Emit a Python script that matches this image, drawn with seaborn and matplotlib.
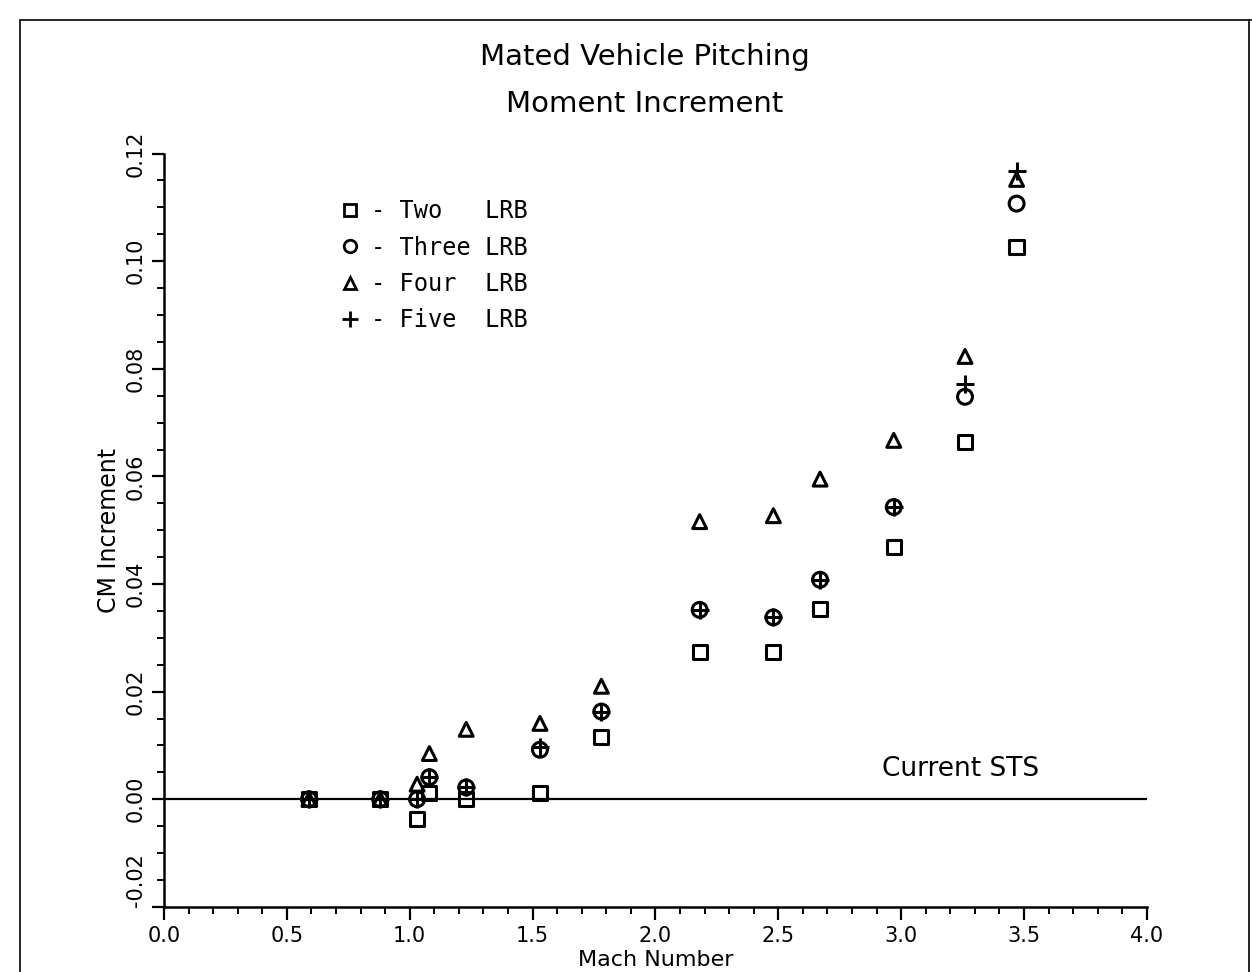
import numpy as np
import pandas as pd
import matplotlib
matplotlib.use("Agg")
import matplotlib.pyplot as plt
from matplotlib.lines import Line2D
from matplotlib.ticker import MultipleLocator, FormatStrFormatter
import seaborn as sns

# ---- data ----
mach = [0.59, 0.88, 1.03, 1.08, 1.23, 1.53, 1.78, 2.18, 2.48, 2.67, 2.97, 3.26, 3.47]
two_lrb = [0.0, 0.0, -0.0037, 0.0011, 0.0, 0.0011, 0.0115, 0.0274, 0.0274, 0.0354, 0.0469, 0.0664, 0.1026]
three_lrb = [0.0, 0.0, 0.0, 0.0041, 0.0022, 0.0092, 0.0163, 0.0352, 0.0338, 0.0408, 0.0543, 0.0748, 0.1107]
four_lrb = [0.0, 0.0, 0.0028, 0.0085, 0.0130, 0.0141, 0.0210, 0.0516, 0.0527, 0.0595, 0.0667, 0.0823, 0.1152]
five_lrb = [0.0, 0.0, 0.0, 0.0041, 0.0022, 0.0098, 0.0163, 0.0352, 0.0338, 0.0408, 0.0543, 0.0772, 0.1167]

series_names = ["Two", "Three", "Four", "Five"]
legend_labels = ["- Two   LRB", "- Three LRB", "- Four  LRB", "- Five  LRB"]
x_ticks = [0.0, 0.5, 1.0, 1.5, 2.0, 2.5, 3.0, 3.5, 4.0]
y_ticks = [-0.02, 0.00, 0.02, 0.04, 0.06, 0.08, 0.10, 0.12]

df = pd.DataFrame({
    "Mach": mach * 4,
    "CM": two_lrb + three_lrb + four_lrb + five_lrb,
    "Config": sum([[n] * len(mach) for n in series_names], []),
})

sns.set_theme(style="white")
plt.rcParams["font.family"] = ["DejaVu Sans"]
plt.rcParams["text.color"] = "black"
plt.rcParams["axes.labelcolor"] = "black"
plt.rcParams["xtick.color"] = "black"
plt.rcParams["ytick.color"] = "black"

fig = plt.figure(figsize=(12.52, 9.72), dpi=100)
ax = fig.add_axes([0.131, 0.067, 0.785, 0.775])

markers = {"Two": "s", "Three": "o", "Four": "^", "Five": "+"}
sizes = {"Two": 105, "Three": 115, "Four": 100, "Five": 170}
for name in series_names:
    sub = df[df["Config"] == name]
    if markers[name] == "+":
        sns.scatterplot(data=sub, x="Mach", y="CM", marker="+", s=sizes[name],
                        color="black", linewidth=2.2, ax=ax, zorder=3)
    else:
        sns.scatterplot(data=sub, x="Mach", y="CM", marker=markers[name], s=sizes[name],
                        facecolor="none", edgecolor="black", linewidth=2.2, ax=ax, zorder=3)

ax.axhline(0.0, color="black", lw=1.6, zorder=2)

ax.set_xlim(0.0, 4.0)
ax.set_ylim(-0.02, 0.12)
ax.set_xticks(x_ticks)
ax.set_yticks(y_ticks)
ax.xaxis.set_minor_locator(MultipleLocator(0.1))
ax.yaxis.set_minor_locator(MultipleLocator(0.005))
ax.xaxis.set_major_formatter(FormatStrFormatter("%.1f"))
ax.yaxis.set_major_formatter(FormatStrFormatter("%.2f"))

for s in ["top", "right"]:
    ax.spines[s].set_visible(False)
for s in ["left", "bottom"]:
    ax.spines[s].set_linewidth(1.8)
    ax.spines[s].set_color("black")

ax.tick_params(axis="both", which="major", direction="out", length=9, width=1.6,
               labelsize=15, colors="black", bottom=True, left=True)
ax.tick_params(axis="both", which="minor", direction="out", length=5, width=1.4,
               bottom=True, left=True)
ax.tick_params(axis="x", pad=5)
ax.tick_params(axis="y", pad=4)
ylabels = ax.get_yticklabels()
for lbl in ylabels:
    lbl.set_rotation(90)
    lbl.set_va("center")
ylabels[0].set_va("bottom")

ax.set_xlabel("Mach Number", fontsize=16)
ax.set_ylabel("CM Increment", fontsize=17)
ax.xaxis.set_label_coords(0.5, -0.057)
ax.yaxis.set_label_coords(-0.044, 0.5)

ax.text(3.24, 0.0056, "Current STS", fontsize=19, ha="center", va="center")

fig.text(0.515, 0.941, "Mated Vehicle Pitching", fontsize=21, ha="center", va="center")
fig.text(0.515, 0.893, "Moment Increment", fontsize=21, ha="center", va="center")

handles = [
    Line2D([], [], marker="s", ls="none", mfc="none", mec="black", mew=2.0, ms=9),
    Line2D([], [], marker="o", ls="none", mfc="none", mec="black", mew=2.0, ms=9),
    Line2D([], [], marker="^", ls="none", mfc="none", mec="black", mew=2.0, ms=8),
    Line2D([], [], marker="+", ls="none", color="black", mew=2.0, ms=11),
]
ax.legend(handles, legend_labels, loc="upper left", bbox_to_anchor=(0.165, 0.955),
          frameon=False, prop={"family": "DejaVu Sans Mono", "size": 17},
          handlelength=1.0, handletextpad=0.4, labelspacing=0.52, borderpad=0)

# scanned page frame
fig.add_artist(Line2D([0.016, 1.0], [0.979, 0.979], transform=fig.transFigure, color="black", lw=1.2))
fig.add_artist(Line2D([0.016, 0.016], [0.0, 0.979], transform=fig.transFigure, color="black", lw=1.2))
fig.add_artist(Line2D([0.998, 0.998], [0.0, 0.979], transform=fig.transFigure, color="black", lw=1.2))

fig.savefig("out.png", dpi=100, facecolor="white")
